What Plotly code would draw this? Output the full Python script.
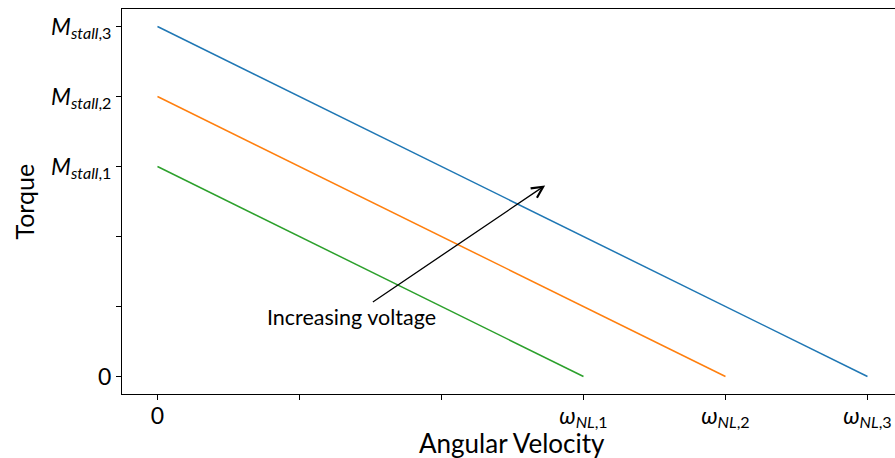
import plotly.graph_objects as go

# Torque-speed lines of a DC motor at three supply voltages
omega_nl = [5, 4, 3]          # no-load speed of each line
m_stall = [5, 4, 3]           # stall torque of each line
line_colors = ["#1f77b4", "#ff7f0e", "#2ca02c"]

x_tick_vals = [0, 1, 2, 3, 4, 5]
x_tick_text = ["0", "", "",
               "<i>ω</i><sub><i>NL</i>,1</sub>",
               "<i>ω</i><sub><i>NL</i>,2</sub>",
               "<i>ω</i><sub><i>NL</i>,3</sub>"]
y_tick_vals = [0, 1, 2, 3, 4, 5]
y_tick_text = ["0", "", "",
               "<i>M</i><sub><i>stall</i>,1</sub>",
               "<i>M</i><sub><i>stall</i>,2</sub>",
               "<i>M</i><sub><i>stall</i>,3</sub>"]

# arrow: from the label position to the head
arrow_tail = (1.366, 0.857)
arrow_head = (2.73, 2.73)
arrow_label = "Increasing voltage"

FONT = "Lato"

fig = go.Figure()
for w, m, c in zip(omega_nl, m_stall, line_colors):
    fig.add_trace(go.Scatter(x=[0, w], y=[m, 0], mode="lines",
                             line=dict(color=c, width=1.5),
                             showlegend=False, hoverinfo="skip"))

fig.add_annotation(x=arrow_head[0], y=arrow_head[1],
                   ax=arrow_tail[0], ay=arrow_tail[1],
                   xref="x", yref="y", axref="x", ayref="y",
                   text=arrow_label, showarrow=True,
                   arrowhead=5, arrowsize=1.7, arrowwidth=1.3,
                   arrowcolor="black",
                   font=dict(family=FONT, size=21.5, color="black"))

# axis titles
fig.add_annotation(x=2.5, y=-0.126, xref="x", yref="paper",
                   text="Angular Velocity", showarrow=False,
                   xanchor="center", yanchor="middle",
                   font=dict(family=FONT, size=26, color="black"))
fig.add_annotation(x=-0.128, y=0.5, xref="paper", yref="paper",
                   text="Torque", showarrow=False, textangle=-90,
                   xanchor="center", yanchor="middle",
                   font=dict(family=FONT, size=25, color="black"))

axis_common = dict(showgrid=False, zeroline=False, showline=True,
                   linecolor="black", linewidth=1,
                   ticks="outside", ticklen=5, tickwidth=1,
                   tickcolor="black",
                   tickfont=dict(family=FONT, size=23, color="black"))

fig.update_xaxes(range=[-0.25, 5.194], tickmode="array",
                 tickvals=x_tick_vals, ticktext=x_tick_text,
                 mirror=True, ticklabelstandoff=-4, **axis_common)
fig.update_yaxes(range=[-0.25, 5.25], tickmode="array",
                 tickvals=y_tick_vals, ticktext=y_tick_text,
                 mirror=False, **axis_common)

fig.update_layout(width=895, height=458,
                  margin=dict(l=122, r=0, t=9, b=64),
                  plot_bgcolor="white", paper_bgcolor="white",
                  font=dict(family=FONT))

fig.write_html("out.html")
